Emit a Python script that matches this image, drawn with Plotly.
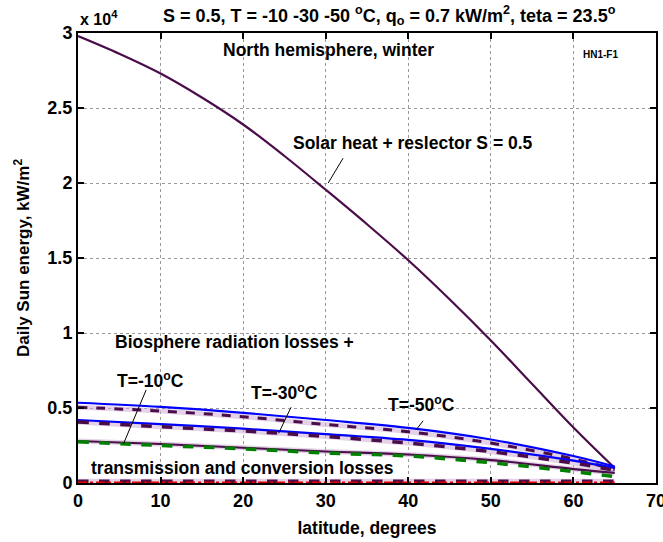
import plotly.graph_objects as go

# ---- data (values in units of 10^4 kW/m^2) ----
lat_main = [0, 5, 10, 15, 20, 25, 30, 35, 40, 45, 50, 55, 60, 65]
solar_heat = [2.98, 2.862, 2.73, 2.57, 2.39, 2.18, 1.955, 1.725, 1.485, 1.225, 0.95, 0.66, 0.37, 0.10]

lat = [0, 10, 20, 30, 40, 50, 60, 65]
blue_top = [0.535, 0.507, 0.468, 0.42, 0.367, 0.29, 0.18, 0.11]
dash_top = [0.505, 0.48, 0.442, 0.39, 0.342, 0.266, 0.16, 0.09]
blue_mid = [0.42, 0.393, 0.362, 0.326, 0.287, 0.227, 0.149, 0.10]
dash_mid = [0.407, 0.375, 0.347, 0.31, 0.266, 0.209, 0.133, 0.085]
purple_low = [0.28, 0.26, 0.235, 0.21, 0.19, 0.153, 0.093, 0.067]
green_low = [0.275, 0.25, 0.228, 0.2, 0.18, 0.135, 0.076, 0.042]
trans_purple = [0.012, 0.012, 0.012, 0.012, 0.012, 0.012, 0.012, 0.012]
trans_red = [0.005, 0.005, 0.005, 0.005, 0.005, 0.005, 0.005, 0.005]

x_ticks = [0, 10, 20, 30, 40, 50, 60, 70]
y_ticks = [0, 0.5, 1, 1.5, 2, 2.5, 3]
y_ticklabels = ["0", "0.5", "1", "1.5", "2", "2.5", "3"]

PURPLE = "#4a0d4a"
HALO = "rgba(205,175,210,0.55)"

fig = go.Figure()

def add(x, y, color, width, dash="solid", shape="linear"):
    fig.add_trace(go.Scatter(x=x, y=y, mode="lines", showlegend=False,
                             line=dict(color=color, width=width, dash=dash, shape=shape),
                             hoverinfo="skip"))

# halos
for series in (dash_top, dash_mid, purple_low, trans_purple):
    add(lat, series, HALO, 5, shape="spline")

add(lat_main, solar_heat, PURPLE, 2.2, shape="spline")
add(lat, blue_top, "#0000ff", 2.2, shape="spline")
add(lat, dash_top, PURPLE, 3, "dash", shape="spline")
add(lat, blue_mid, "#0000ff", 2.2, shape="spline")
add(lat, dash_mid, PURPLE, 3.5, "dash", shape="spline")
add(lat, purple_low, PURPLE, 2.2, shape="spline")
add(lat, green_low, "#008000", 3.5, "dash", shape="spline")
add(lat, trans_purple, PURPLE, 3.5, "dash")
add(lat, trans_red, "#e00000", 1.5, "dashdot")

# pointer lines
pointers = [
    ([32.1, 30.3], [2.165, 2.0]),
    ([8.25, 5.5], [0.62, 0.26]),
    ([25.8, 24.3], [0.505, 0.331]),
    ([41.8, 41.0], [0.415, 0.358]),
]
for px, py in pointers:
    add(px, py, "black", 1)

FONT = "Liberation Sans, Arial, sans-serif"

def text(x, y, s, size=17.5, xanchor="center"):
    fig.add_annotation(x=x, y=y, xref="x", yref="y", text=s, showarrow=False,
                       xanchor=xanchor, yanchor="middle",
                       font=dict(family=FONT, size=size, color="black", weight="bold"))

text(30.3, 2.89, "North hemisphere, winter")
text(63.3, 2.86, "HN1-F1", 10)
text(40.6, 2.27, "Solar heat + reslector S = 0.5")
text(18.9, 0.94, "Biosphere radiation losses +")
text(8.8, 0.69, "T=-10<sup>o</sup>C")
text(25.0, 0.61, "T=-30<sup>o</sup>C")
text(41.6, 0.53, "T=-50<sup>o</sup>C")
text(19.9, 0.098, "transmission and conversion losses")

# title & exponent
fig.add_annotation(x=(389 - 78) / 578, y=1.0, xref="paper", yref="paper", yshift=3,
                   xanchor="center", yanchor="bottom", showarrow=False,
                   text="S = 0.5, T = -10 -30 -50 <sup>o</sup>C, q<sub>o</sub> = 0.7 kW/m<sup>2</sup>, teta = 23.5<sup>o</sup>",
                   font=dict(family=FONT, size=18, color="black", weight="bold"))
fig.add_annotation(x=0.0, y=1.0, xref="paper", yref="paper", yshift=3, xshift=0,
                   xanchor="left", yanchor="bottom", showarrow=False,
                   text="x 10<sup>4</sup>",
                   font=dict(family=FONT, size=16, color="black", weight="bold"))

axis_common = dict(showline=True, linecolor="black", linewidth=2, mirror="allticks",
                   ticks="inside", ticklen=6, tickwidth=1.5, tickcolor="black",
                   showgrid=True, gridcolor="#999999", griddash="dot", gridwidth=1,
                   zeroline=False, automargin=False, ticklabeloverflow="allow",
                   tickfont=dict(family=FONT, size=18, color="black", weight="bold"))

fig.update_xaxes(range=[0, 70], tickvals=x_ticks, **axis_common,
                 title=dict(text="latitude, degrees", standoff=12,
                            font=dict(family=FONT, size=17.5, color="black", weight="bold")))
fig.update_yaxes(range=[0, 3], tickvals=y_ticks, ticktext=y_ticklabels, **axis_common,
                 ticklabelstandoff=0,
                 title=dict(text="Daily Sun energy, kW/m<sup>2</sup>", standoff=13,
                            font=dict(family=FONT, size=17, color="black", weight="bold")))

fig.update_layout(width=663, height=542, margin=dict(l=78, r=7, t=33, b=59),
                  plot_bgcolor="white", paper_bgcolor="white", showlegend=False)

fig.write_html("out.html", config={"displayModeBar": False},
               post_script="document.body.style.margin='0';document.body.style.padding='0';document.body.style.overflow='hidden';")
